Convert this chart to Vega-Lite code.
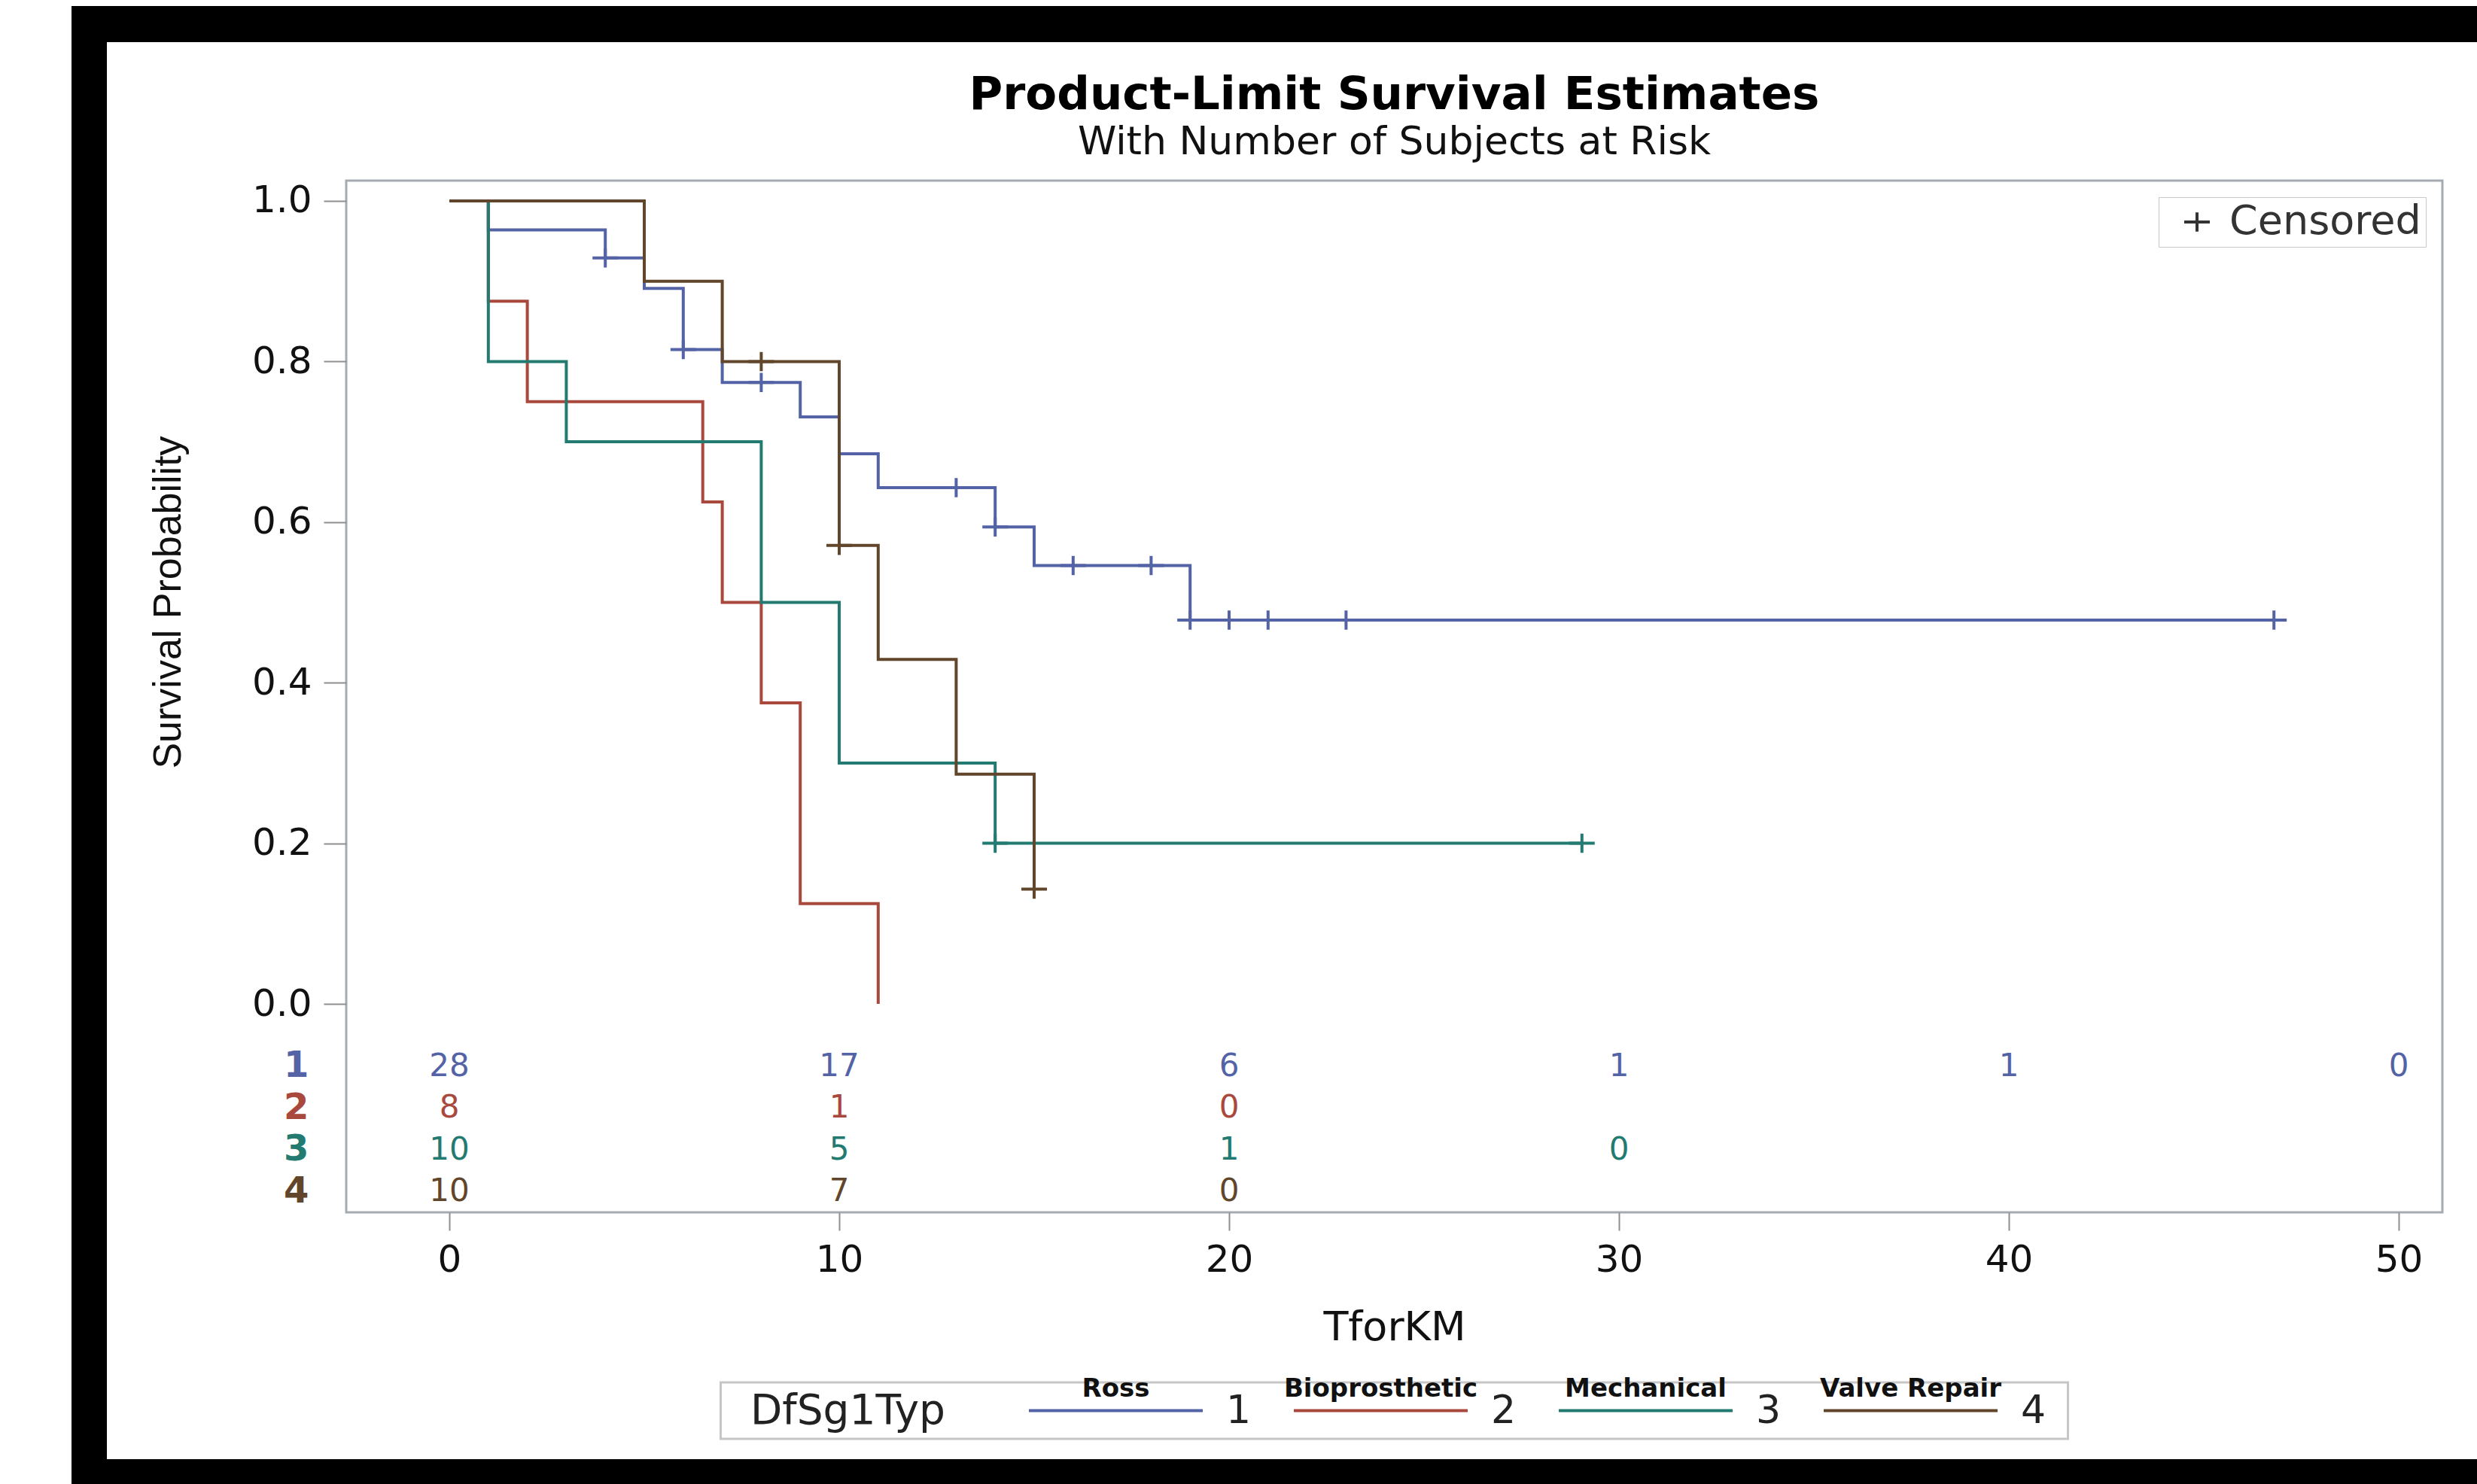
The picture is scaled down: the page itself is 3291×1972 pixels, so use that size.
{
  "$schema": "https://vega.github.io/schema/vega-lite/v6.json",
  "background": "white",
  "padding": {"left": 95, "top": 8, "right": 0, "bottom": 0},
  "autosize": {"type": "pad"},
  "config": {"view": {"stroke": null}, "concat": {"spacing": 0}},
  "datasets": {
    "curves": [
      {"group": "1", "time": 0, "surv": 1},
      {"group": "1", "time": 1, "surv": 0.964},
      {"group": "1", "time": 4, "surv": 0.929},
      {"group": "1", "time": 5, "surv": 0.891},
      {"group": "1", "time": 6, "surv": 0.815},
      {"group": "1", "time": 7, "surv": 0.774},
      {"group": "1", "time": 9, "surv": 0.731},
      {"group": "1", "time": 10, "surv": 0.685},
      {"group": "1", "time": 11, "surv": 0.643},
      {"group": "1", "time": 14, "surv": 0.594},
      {"group": "1", "time": 15, "surv": 0.546},
      {"group": "1", "time": 19, "surv": 0.478},
      {"group": "1", "time": 46.8, "surv": 0.478},
      {"group": "2", "time": 0, "surv": 1},
      {"group": "2", "time": 1, "surv": 0.875},
      {"group": "2", "time": 2, "surv": 0.75},
      {"group": "2", "time": 6.5, "surv": 0.625},
      {"group": "2", "time": 7, "surv": 0.5},
      {"group": "2", "time": 8, "surv": 0.375},
      {"group": "2", "time": 9, "surv": 0.125},
      {"group": "2", "time": 11, "surv": 0},
      {"group": "3", "time": 0, "surv": 1},
      {"group": "3", "time": 1, "surv": 0.8},
      {"group": "3", "time": 3, "surv": 0.7},
      {"group": "3", "time": 8, "surv": 0.5},
      {"group": "3", "time": 10, "surv": 0.3},
      {"group": "3", "time": 14, "surv": 0.2},
      {"group": "3", "time": 29.05, "surv": 0.2},
      {"group": "4", "time": 0, "surv": 1},
      {"group": "4", "time": 5, "surv": 0.9},
      {"group": "4", "time": 7, "surv": 0.8},
      {"group": "4", "time": 10, "surv": 0.571},
      {"group": "4", "time": 11, "surv": 0.429},
      {"group": "4", "time": 13, "surv": 0.286},
      {"group": "4", "time": 15, "surv": 0.143}
    ],
    "censor": [
      {"group": "1", "time": 4, "surv": 0.929},
      {"group": "1", "time": 6, "surv": 0.815},
      {"group": "1", "time": 8, "surv": 0.774},
      {"group": "1", "time": 13, "surv": 0.643},
      {"group": "1", "time": 14, "surv": 0.594},
      {"group": "1", "time": 16, "surv": 0.546},
      {"group": "1", "time": 18, "surv": 0.546},
      {"group": "1", "time": 19, "surv": 0.478},
      {"group": "1", "time": 20, "surv": 0.478},
      {"group": "1", "time": 21, "surv": 0.478},
      {"group": "1", "time": 23, "surv": 0.478},
      {"group": "1", "time": 46.8, "surv": 0.478},
      {"group": "3", "time": 14, "surv": 0.2},
      {"group": "3", "time": 29.05, "surv": 0.2},
      {"group": "4", "time": 8, "surv": 0.8},
      {"group": "4", "time": 10, "surv": 0.571},
      {"group": "4", "time": 15, "surv": 0.143}
    ],
    "atrisk": [
      {"group": "1", "time": 0, "n": 28},
      {"group": "1", "time": 10, "n": 17},
      {"group": "1", "time": 20, "n": 6},
      {"group": "1", "time": 30, "n": 1},
      {"group": "1", "time": 40, "n": 1},
      {"group": "1", "time": 50, "n": 0},
      {"group": "2", "time": 0, "n": 8},
      {"group": "2", "time": 10, "n": 1},
      {"group": "2", "time": 20, "n": 0},
      {"group": "3", "time": 0, "n": 10},
      {"group": "3", "time": 10, "n": 5},
      {"group": "3", "time": 20, "n": 1},
      {"group": "3", "time": 30, "n": 0},
      {"group": "4", "time": 0, "n": 10},
      {"group": "4", "time": 10, "n": 7},
      {"group": "4", "time": 20, "n": 0}
    ],
    "groups": [
      {"group": "1", "name": "Ross"},
      {"group": "2", "name": "Bioprosthetic"},
      {"group": "3", "name": "Mechanical"},
      {"group": "4", "name": "Valve Repair"}
    ]
  },
  "spacing": 0,
  "bounds": "full",
  "resolve": {"scale": {"shape": "independent", "color": "independent"}, "legend": {"shape": "independent", "color": "independent"}},
  "vconcat": [
    {"width": 3196, "height": 48, "view": {"fill": "black", "stroke": null}, "data": {"values": []}, "mark": "point"},
    {
      "spacing": 0,
      "bounds": "flush",
      "resolve": {"scale": {"shape": "independent", "color": "independent"}, "legend": {"shape": "independent", "color": "independent"}},
      "hconcat": [
        {"width": 47, "height": 1883, "view": {"fill": "black", "stroke": null}, "data": {"values": []}, "mark": "point"},
        {"width": 318, "height": 1, "view": {"stroke": null}, "data": {"values": []}, "mark": "point"},
        {
          "spacing": 0,
          "bounds": "flush",
          "center": true,
          "resolve": {"scale": {"shape": "independent", "color": "independent"}, "legend": {"shape": "independent", "color": "independent"}},
          "vconcat": [
            {"width": 1, "height": 184, "view": {"stroke": null}, "data": {"values": []}, "mark": "point"},
            {
              "width": 2785,
              "height": 1371,
              "view": {"stroke": "#a6abb1", "strokeWidth": 3, "fill": "white"},
              "title": {
                "text": "Product-Limit Survival Estimates",
                "subtitle": "With Number of Subjects at Risk",
                "anchor": "middle",
                "frame": "group",
                "font": "DejaVu Sans",
                "fontSize": 61,
                "fontWeight": "bold",
                "color": "#000000",
                "subtitleFont": "DejaVu Sans",
                "subtitleFontSize": 52,
                "subtitleColor": "#111111",
                "subtitlePadding": 6,
                "offset": 24
              },
              "encoding": {
                "x": {
                  "field": "time",
                  "type": "quantitative",
                  "scale": {"domain": [-2.645, 51.12], "nice": false, "zero": false},
                  "axis": {
                    "values": [0, 10, 20, 30, 40, 50],
                    "title": "TforKM",
                    "grid": false,
                    "domain": false,
                    "tickSize": 24,
                    "tickWidth": 2,
                    "tickColor": "#8f8f8f",
                    "labelFont": "DejaVu Sans",
                    "labelFontSize": 50,
                    "labelColor": "#111111",
                    "labelPadding": 14,
                    "labelFlush": false,
                    "titleFont": "DejaVu Sans",
                    "titleFontSize": 54,
                    "titleFontWeight": "normal",
                    "titleColor": "#111111",
                    "titlePadding": 38
                  }
                },
                "color": {
                  "field": "group",
                  "type": "nominal",
                  "scale": {"domain": ["1", "2", "3", "4"], "range": ["#5363A6", "#A9483D", "#237A71", "#62462B"]},
                  "legend": null
                }
              },
              "layer": [
                {
                  "encoding": {
                    "y": {
                      "field": "surv",
                      "type": "quantitative",
                      "scale": {"domain": [-0.2596, 1.0253], "nice": false, "zero": false},
                      "axis": {
                        "values": [0, 0.2, 0.4, 0.6, 0.8, 1],
                        "format": ".1f",
                        "title": "Survival Probability",
                        "grid": false,
                        "domain": false,
                        "tickSize": 30,
                        "tickWidth": 2,
                        "tickColor": "#8f8f8f",
                        "labelFont": "DejaVu Sans",
                        "labelFontSize": 50,
                        "labelColor": "#111111",
                        "labelPadding": 16,
                        "labelFlush": false,
                        "titleFont": "Liberation Sans",
                        "titleFontSize": 52,
                        "titleFontWeight": "normal",
                        "titleColor": "#111111",
                        "titlePadding": 84,
                        "titleY": 560
                      }
                    }
                  },
                  "layer": [
                    {
                      "data": {"name": "curves"},
                      "mark": {"type": "line", "interpolate": "step-after", "strokeWidth": 4}
                    },
                    {
                      "data": {"name": "censor"},
                      "mark": {"type": "point", "filled": false, "strokeWidth": 4, "size": 1156, "opacity": 1},
                      "encoding": {
                        "shape": {
                          "datum": "Censored",
                          "type": "nominal",
                          "scale": {"domain": ["Censored"], "range": ["M-1,0H1M0,-0.75V0.75"]},
                          "legend": {
                            "orient": "top-right",
                            "offset": 22,
                            "title": null,
                            "labelFont": "DejaVu Sans",
                            "labelFontSize": 54,
                            "labelColor": "#333333",
                            "labelLimit": 0,
                            "strokeColor": "#c8c8c8",
                            "fillColor": "white",
                            "padding": 6,
                            "symbolSize": 1156,
                            "symbolStrokeWidth": 4,
                            "symbolStrokeColor": "#333333",
                            "symbolFillColor": "transparent",
                            "symbolOffset": 18,
                            "labelOffset": 16,
                            "labelExpr": "datum.label + ' '"
                          }
                        }
                      }
                    }
                  ]
                },
                {
                  "data": {"name": "atrisk"},
                  "mark": {"type": "text", "font": "DejaVu Sans", "fontSize": 42, "baseline": "middle", "align": "center"},
                  "encoding": {
                    "y": {
                      "field": "group",
                      "type": "nominal",
                      "scale": {"type": "point", "domain": ["1", "2", "3", "4"], "range": [1176.7, 1343], "padding": 0},
                      "axis": {
                        "orient": "left",
                        "title": null,
                        "ticks": false,
                        "domain": false,
                        "grid": false,
                        "labelPadding": 50,
                        "labelFont": "DejaVu Sans",
                        "labelFontSize": 48,
                        "labelFontWeight": "bold",
                        "labelBaseline": "middle",
                        "labelColor": {
                          "condition": [
                            {"test": "datum.value === '1'", "value": "#5363A6"},
                            {"test": "datum.value === '2'", "value": "#A9483D"},
                            {"test": "datum.value === '3'", "value": "#237A71"}
                          ],
                          "value": "#62462B"
                        }
                      }
                    },
                    "text": {"field": "n", "type": "nominal"}
                  }
                }
              ],
              "resolve": {"scale": {"y": "independent"}}
            },
            {"width": 1, "height": 226, "view": {"stroke": null}, "data": {"values": []}, "mark": "point"},
            {
              "width": 1790,
              "height": 75,
              "view": {"stroke": "#c6c6c6", "strokeWidth": 3, "fill": "white"},
              "data": {"name": "groups"},
              "encoding": {
                "x": {
                  "field": "group",
                  "type": "nominal",
                  "scale": {"type": "point", "domain": ["1", "2", "3", "4"], "range": [525, 1581], "padding": 0},
                  "axis": null
                }
              },
              "layer": [
                {
                  "mark": {"type": "point", "shape": "stroke", "size": 53361, "strokeWidth": 4, "filled": false, "opacity": 1},
                  "encoding": {
                    "color": {
                      "field": "group",
                      "type": "nominal",
                      "scale": {"domain": ["1", "2", "3", "4"], "range": ["#5363A6", "#A9483D", "#237A71", "#62462B"]},
                      "legend": null
                    }
                  }
                },
                {
                  "mark": {"type": "text", "dx": 163, "baseline": "middle", "align": "center", "font": "DejaVu Sans", "fontSize": 52, "color": "#222222"},
                  "encoding": {"text": {"field": "group", "type": "nominal"}}
                },
                {
                  "mark": {"type": "text", "dy": -29, "baseline": "middle", "align": "center", "font": "DejaVu Sans", "fontSize": 34, "fontWeight": "bold", "color": "#111111"},
                  "encoding": {"text": {"field": "name", "type": "nominal"}}
                },
                {
                  "data": {"values": [{"t": "DfSg1Typ"}]},
                  "mark": {"type": "text", "dx": -356, "baseline": "middle", "align": "center", "font": "DejaVu Sans", "fontSize": 55, "color": "#222222"},
                  "encoding": {"x": {"datum": "1", "type": "nominal"}, "text": {"field": "t", "type": "nominal"}}
                }
              ]
            }
          ]
        }
      ]
    },
    {"width": 3196, "height": 33, "view": {"fill": "black", "stroke": null}, "data": {"values": []}, "mark": "point"}
  ]
}
